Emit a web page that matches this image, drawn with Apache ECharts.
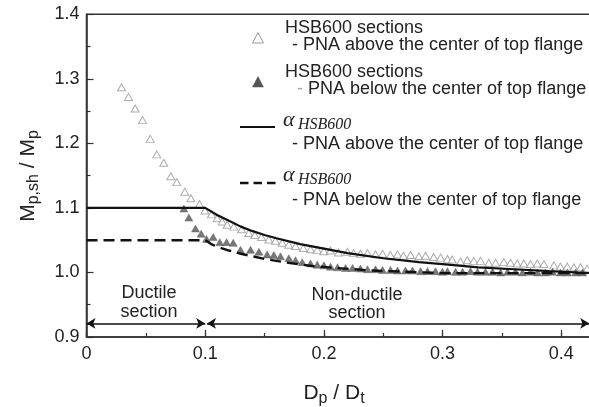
<!DOCTYPE html>
<html>
<head>
<meta charset="utf-8">
<script src="https://cdn.jsdelivr.net/npm/echarts@6/dist/echarts.min.js"></script>
<style>
html,body{margin:0;padding:0;background:#fff;}
#c{width:589px;height:407px;}
</style>
</head>
<body>
<div id="c"></div>
<script>
// ---- data ----
var openX = [0.0295,0.0354,0.041,0.0472,0.0537,0.0592,0.0651,0.071,0.0761,0.0828,0.0879,0.0952,0.0997,0.1053,0.1101,0.1143,0.1185,0.1241,0.1306,0.1367,0.1418,0.1474,0.1536,0.1592,0.1649,0.1704,0.1761,0.1826,0.1887,0.1944,
  0.2,0.2055,0.2123,0.2198,0.2249,0.2308,0.2367,0.2435,0.2494,0.256,0.262,0.267,0.273,0.28,0.2856,0.2924,0.2983,
  0.3041,0.3081,0.3151,0.3207,0.3263,0.3319,0.3389,0.3446,0.3516,0.3572,0.3628,0.3684,0.374,0.3797,0.3853,0.3937,0.3993,0.405,0.4106,0.4162,0.4218];
var openY = [1.287,1.272,1.254,1.236,1.207,1.183,1.170,1.149,1.140,1.125,1.115,1.106,1.096,1.090,1.084,1.079,1.074,1.071,1.067,1.061,1.058,1.055,1.051,1.049,1.046,1.043,1.041,1.038,1.036,1.035,
  1.033,1.034,1.031,1.032,1.030,1.029,1.030,1.028,1.029,1.027,1.028,1.026,1.027,1.025,1.026,1.024,1.023,
  1.021,1.020,1.017,1.019,1.018,1.018,1.015,1.015,1.016,1.015,1.014,1.014,1.013,1.014,1.013,1.011,1.009,1.009,1.008,1.008,1.006];
var fillX = [0.082,0.0862,0.0918,0.0966,0.1011,0.1067,0.1123,0.118,0.1236,0.1297,0.1382,0.1452,0.1522,0.1578,0.1634,0.1704,0.1761,0.1817,0.1887,0.1944,0.2,
  0.2056,0.2115,0.2182,0.2241,0.2308,0.2367,0.2435,0.2494,0.2561,0.262,0.2687,0.2746,0.2814,0.2873,0.294,0.2999,
  0.3041,0.3109,0.3168,0.3235,0.3294,0.3361,0.342,0.3488,0.3547,0.3614,0.3673,0.374,0.38,0.3867,0.3926,0.3993,0.4052,0.412,0.4179];
var fillY = [1.099,1.085,1.068,1.060,1.052,1.055,1.047,1.047,1.046,1.035,1.035,1.032,1.028,1.027,1.025,1.022,1.019,1.016,1.014,1.012,1.011,
  1.009,1.008,1.007,1.007,1.006,1.005,1.005,1.004,1.004,1.003,1.003,1.003,1.002,1.002,1.002,1.001,
  1.002,1.001,1.001,1.002,1.001,1.001,1.001,1.000,1.001,1.001,1.000,1.001,1.000,1.000,1.001,1.000,1.000,1.000,1.000];
var solidX = [0,0.1,0.11,0.12,0.13,0.14,0.15,0.16,0.18,0.2,0.22,0.25,0.28,0.3,0.33,0.36,0.39,0.425];
var solidY = [1.1,1.1,1.089,1.080,1.071,1.064,1.058,1.053,1.044,1.037,1.030,1.022,1.016,1.013,1.008,1.005,1.002,0.999];
var dashX = [0,0.1,0.105,0.11,0.12,0.13,0.15,0.17,0.19,0.21,0.24,0.27,0.30,0.35,0.425];
var dashY = [1.05,1.05,1.044,1.040,1.034,1.029,1.021,1.015,1.010,1.007,1.003,1.001,0.999,0.999,0.999];
var regionBounds = [0, 0.1, 0.1015, 0.4235];
var arrowY = 0.921;
var xTicks = [0, 0.1, 0.2, 0.3, 0.4];
var yTicks = [0.9, 1.0, 1.1, 1.2, 1.3, 1.4];

function zip(a, b) { return a.map(function (v, i) { return [v, b[i]]; }); }

var chart = echarts.init(document.getElementById('c'), null, {renderer: 'canvas'});
var FONT = 'Liberation Sans, Arial, sans-serif';
var TXT = '#222';
var AX = '#333';

var option = {
  backgroundColor: '#fff',
  animation: false,
  grid: {
    show: true, borderColor: AX, borderWidth: 1.5, backgroundColor: 'transparent',
    left: 86.5, top: 14.3, width: 504.5, height: 322.7,
    containLabel: false, outerBoundsMode: 'none'
  },
  xAxis: [{
    type: 'value', min: 0, max: 0.425, interval: 0.1, position: 'bottom',
    axisLine: {show: true, lineStyle: {color: AX, width: 1.5}},
    axisTick: {inside: true, length: 7, lineStyle: {color: AX, width: 1.2}},
    axisLabel: {fontSize: 18, fontFamily: FONT, color: TXT, margin: 8, showMaxLabel: false,
      formatter: function (v) {
        for (var i = 0; i < xTicks.length; i++) if (Math.abs(v - xTicks[i]) < 1e-6) return String(xTicks[i]);
        return '';
      }},
    splitLine: {show: false}
  }, {
    type: 'value', min: 0, max: 0.425, interval: 0.05, position: 'bottom',
    axisLine: {show: false},
    axisTick: {inside: true, length: 4, lineStyle: {color: AX, width: 1.2}},
    axisLabel: {show: false},
    splitLine: {show: false}
  }],
  yAxis: {
    type: 'value', min: 0.9, max: 1.4, interval: 0.1,
    axisLine: {show: true, lineStyle: {color: AX, width: 1.5}},
    axisTick: {inside: true, length: 7, lineStyle: {color: AX, width: 1.2}},
    minorTick: {show: true, splitNumber: 2, length: 4, lineStyle: {color: AX, width: 1.2}},
    axisLabel: {fontSize: 18, fontFamily: FONT, color: TXT, margin: 7,
      formatter: function (v) { return v.toFixed(1); }},
    splitLine: {show: false}, minorSplitLine: {show: false}
  },
  series: [
    {
      name: 'open', type: 'scatter', data: zip(openX, openY), symbol: 'triangle', symbolSize: [8, 7],
      itemStyle: {color: '#fff', borderColor: '#999', borderWidth: 1}, z: 2
    },
    {
      name: 'filled', type: 'scatter', data: zip(fillX, fillY), symbol: 'triangle', symbolSize: [8, 7],
      itemStyle: {color: '#555', borderColor: '#555', borderWidth: 0.5}, z: 3
    },
    {
      name: 'solid', type: 'line', data: zip(solidX, solidY), showSymbol: false, symbol: 'none',
      lineStyle: {color: '#111', width: 2.2, type: 'solid'}, z: 4
    },
    {
      name: 'dash', type: 'line', data: zip(dashX, dashY), showSymbol: false, symbol: 'none',
      lineStyle: {color: '#111', width: 2.4, type: [11, 6]}, z: 4
    },
    {
      name: 'arrows', type: 'line', data: [], z: 5,
      markLine: {
        silent: true, symbol: ['arrow', 'arrow'], symbolSize: [8, 9],
        label: {show: false},
        lineStyle: {color: '#111', width: 1.5, type: 'solid'},
        data: [
          [{coord: [regionBounds[0], arrowY]}, {coord: [regionBounds[1], arrowY]}],
          [{coord: [regionBounds[2], arrowY]}, {coord: [regionBounds[3], arrowY]}]
        ]
      }
    }
  ],
  graphic: [
    // legend symbols
    {type: 'polygon', shape: {points: [[258, 32.5], [263.5, 43], [252.5, 43]]}, style: {fill: '#fff', stroke: '#999', lineWidth: 1}},
    {type: 'polygon', shape: {points: [[258, 76.5], [263.5, 87], [252.5, 87]]}, style: {fill: '#555', stroke: '#555', lineWidth: 0.5}},
    {type: 'line', shape: {x1: 240, y1: 127, x2: 275, y2: 127}, style: {stroke: '#111', lineWidth: 2.2}},
    {type: 'line', shape: {x1: 240, y1: 183, x2: 276, y2: 183}, style: {stroke: '#111', lineWidth: 2.4, lineDash: [8.5, 5]}},
    // legend texts
    {type: 'text', x: 285, y: 28, style: {text: 'HSB600 sections', font: '18px ' + FONT, fill: TXT, align: 'left', verticalAlign: 'middle'}},
    {type: 'text', x: 292, y: 45, style: {text: '- PNA above the center of top flange', font: '18px ' + FONT, fill: TXT, align: 'left', verticalAlign: 'middle'}},
    {type: 'text', x: 285, y: 72, style: {text: 'HSB600 sections', font: '18px ' + FONT, fill: TXT, align: 'left', verticalAlign: 'middle'}},
    {type: 'text', x: 297, y: 89, style: {text: '{g|-} PNA below the center of top flange', font: '18px ' + FONT, fill: TXT, align: 'left', verticalAlign: 'middle',
      rich: {g: {fill: '#aaa', font: '18px ' + FONT}}}},
    {type: 'text', x: 283, y: 120, style: {text: 'α', font: 'italic 22px Liberation Serif, Times New Roman, serif', fill: TXT, align: 'left', verticalAlign: 'middle'}},
    {type: 'text', x: 298, y: 125, style: {text: 'HSB600', font: 'italic 16px Liberation Serif, Times New Roman, serif', fill: TXT, align: 'left', verticalAlign: 'middle'}},
    {type: 'text', x: 292, y: 144.5, style: {text: '- PNA above the center of top flange', font: '18px ' + FONT, fill: TXT, align: 'left', verticalAlign: 'middle'}},
    {type: 'text', x: 283, y: 175, style: {text: 'α', font: 'italic 22px Liberation Serif, Times New Roman, serif', fill: TXT, align: 'left', verticalAlign: 'middle'}},
    {type: 'text', x: 298, y: 180, style: {text: 'HSB600', font: 'italic 16px Liberation Serif, Times New Roman, serif', fill: TXT, align: 'left', verticalAlign: 'middle'}},
    {type: 'text', x: 292, y: 200, style: {text: '- PNA below the center of top flange', font: '18px ' + FONT, fill: TXT, align: 'left', verticalAlign: 'middle'}},
    // region annotations
    {type: 'text', x: 149, y: 303, style: {text: 'Ductile\nsection', font: '18px ' + FONT, fill: TXT, align: 'center', verticalAlign: 'middle', lineHeight: 19}},
    {type: 'text', x: 357, y: 304, style: {text: 'Non-ductile\nsection', font: '18px ' + FONT, fill: TXT, align: 'center', verticalAlign: 'middle', lineHeight: 18}},
    // axis titles
    {type: 'text', x: 334, y: 393, style: {
      text: '{m|D}{s|p}{m| / D}{s|t}', align: 'center', verticalAlign: 'middle', fill: TXT,
      rich: {m: {font: '21px ' + FONT, fill: TXT}, s: {font: '16px ' + FONT, fill: TXT, padding: [12, 0, 0, 0]}}}},
    {type: 'text', x: 28, y: 176, rotation: Math.PI / 2, style: {
      text: '{m|M}{s|p,sh}{m| / M}{s|p}', align: 'center', verticalAlign: 'middle', fill: TXT,
      rich: {m: {font: '21px ' + FONT, fill: TXT}, s: {font: '16px ' + FONT, fill: TXT, padding: [12, 0, 0, 0]}}}}
  ]
};
chart.setOption(option);
</script>
</body>
</html>
